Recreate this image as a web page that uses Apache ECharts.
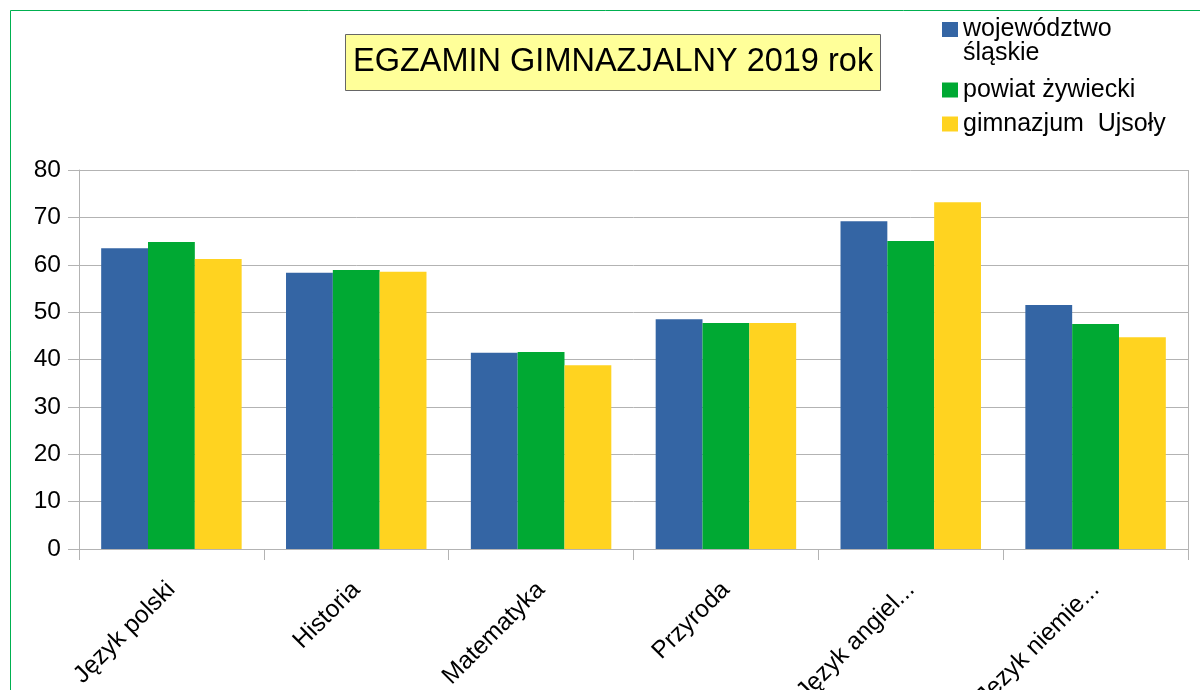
<!DOCTYPE html>
<html>
<head>
<meta charset="utf-8">
<script src="https://cdn.jsdelivr.net/npm/echarts@6/dist/echarts.min.js"></script>
<style>
  html, body { margin: 0; padding: 0; background: #fff; }
  #chart { width: 1200px; height: 690px; }
</style>
</head>
<body>
<div id="chart"></div>
<script>
// przedmioty
var categories = ['Język polski', 'Historia', 'Matematyka', 'Przyroda', 'Język angielski', 'Język niemiecki'];
// wyniki w %
var wojewodztwo = [63.5, 58.3, 41.4, 48.5, 69.2, 51.5];
var powiat = [64.8, 58.9, 41.6, 47.7, 65.0, 47.5];
var gimnazjum = [61.2, 58.5, 38.8, 47.7, 73.2, 44.7];
var yTicks = [0, 10, 20, 30, 40, 50, 60, 70, 80];

var FONT = '"Liberation Sans", Arial, sans-serif';

var chart = echarts.init(document.getElementById('chart'));

var legendText = { fontFamily: FONT, fontSize: 25, color: '#000', lineHeight: 24 };

var option = {
    animation: false,
    textStyle: { fontFamily: FONT },
    title: {
        text: 'EGZAMIN GIMNAZJALNY 2019 rok',
        left: 345,
        top: 34,
        padding: [11, 8, 11, 8],
        backgroundColor: '#ffff99',
        borderColor: '#666',
        borderWidth: 1,
        textStyle: { fontFamily: FONT, fontSize: 32.5, lineHeight: 35, fontWeight: 'normal', color: '#000' }
    },
    legend: [{
        // pierwsza pozycja - dwie linie, kwadrat przy pierwszej
        orient: 'vertical',
        left: 942,
        top: -7,
        padding: 0,
        itemWidth: 16,
        itemHeight: 15,
        icon: 'rect',
        data: ['województwo śląskie'],
        textStyle: legendText,
        formatter: function(name) {
            return '\nwojewództwo\nśląskie';
        }
    }, {
        orient: 'vertical',
        left: 942,
        top: 77.5,
        padding: 0,
        itemWidth: 16,
        itemHeight: 15,
        itemGap: 9,
        icon: 'rect',
        data: ['powiat żywiecki', 'gimnazjum  Ujsoły'],
        textStyle: legendText
    }],
    grid: { left: 79, right: 12, top: 170, bottom: 141, containLabel: false, outerBoundsMode: 'none' },
    xAxis: {
        type: 'category',
        data: categories,
        axisLine: { show: true, lineStyle: { color: '#b3b3b3', width: 1 } },
        axisTick: { show: true, length: 11, lineStyle: { color: '#b3b3b3' } },
        axisLabel: {
            rotate: 45,
            margin: 37,
            fontSize: 24.5,
            color: '#000',
            fontFamily: FONT,
            interval: 0,
            formatter: function(v) {
                return v.length > 12 ? v.substring(0, 12) + '...' : v;
            }
        },
        splitLine: { show: false }
    },
    yAxis: {
        type: 'value',
        min: yTicks[0],
        max: yTicks[yTicks.length - 1],
        interval: 10,
        axisLine: { show: true, lineStyle: { color: '#b3b3b3', width: 1 } },
        axisTick: { show: true, length: 11, lineStyle: { color: '#b3b3b3' } },
        axisLabel: { fontSize: 24.5, color: '#000', margin: 18, fontFamily: FONT },
        splitLine: { show: true, lineStyle: { color: '#b3b3b3', width: 1 } }
    },
    series: [{
        name: 'województwo śląskie',
        type: 'bar',
        data: wojewodztwo,
        barGap: '0%',
        barCategoryGap: '24%',
        itemStyle: { color: '#3465a4' }
    }, {
        name: 'powiat żywiecki',
        type: 'bar',
        data: powiat,
        itemStyle: { color: '#00a933' }
    }, {
        name: 'gimnazjum  Ujsoły',
        type: 'bar',
        data: gimnazjum,
        itemStyle: { color: '#ffd320' }
    }],
    graphic: [{
        // ramka wykresu
        type: 'rect',
        silent: true,
        z: -1,
        shape: { x: 10.5, y: 10.5, width: 1200, height: 700 },
        style: { fill: 'none', stroke: '#00b050', lineWidth: 1 }
    }, {
        // prawa krawędź obszaru wykresu
        type: 'line',
        silent: true,
        shape: { x1: 1188.5, y1: 170, x2: 1188.5, y2: 549 },
        style: { stroke: '#b3b3b3', lineWidth: 1 }
    }]
};

chart.setOption(option);
</script>
</body>
</html>
